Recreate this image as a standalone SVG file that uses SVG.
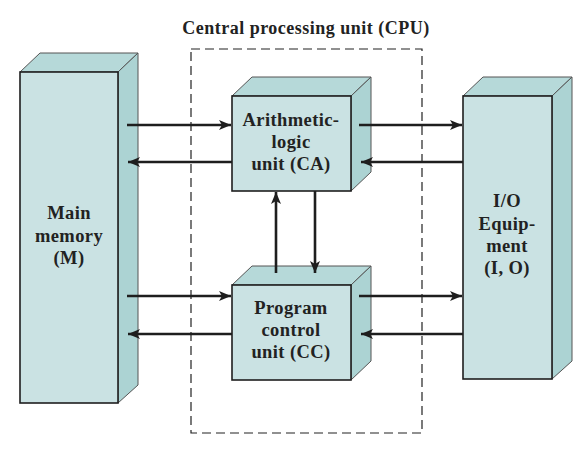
<svg xmlns="http://www.w3.org/2000/svg" width="580" height="471" viewBox="0 0 580 471">
<style>
.front{fill:#cae2e3;stroke:#1e1e1e;stroke-width:1.6}
.side{fill:#acd3d3;stroke:#555;stroke-width:1}
.top{fill:#b6d9d9;stroke:#555;stroke-width:1}
.lbl{font-family:"Liberation Serif","Times New Roman",serif;font-weight:bold;font-size:18.5px;letter-spacing:0.4px;fill:#222;text-anchor:middle}
.title{font-family:"Liberation Serif","Times New Roman",serif;font-weight:bold;font-size:18px;letter-spacing:0.5px;fill:#222;text-anchor:middle}
.conn{stroke:#1e1e1e;stroke-width:2.6;fill:none}
</style>
<defs>
<marker id="ah" viewBox="0 0 12 10" refX="12" refY="5" markerWidth="12" markerHeight="10" markerUnits="userSpaceOnUse" orient="auto">
<path d="M0,0 L12,5 L0,10 L3,5 Z" fill="#1e1e1e"/>
</marker>
</defs>
<rect x="191" y="49" width="231" height="384" fill="none" stroke="#222" stroke-width="1.2" stroke-dasharray="9,5"/>
<text class="title" x="306" y="34">Central processing unit (CPU)</text>
<g id="main-memory">
<polygon class="top" points="20,72 40,53 138,53 118,72"/>
<polygon class="side" points="118,72 138,53 138,385 118,403"/>
<rect class="front" x="20" y="72" width="98" height="331"/>
<text class="lbl" x="69" y="219">Main</text>
<text class="lbl" x="69" y="242">memory</text>
<text class="lbl" x="69" y="264">(M)</text>
</g>
<g id="alu">
<polygon class="top" points="232,96 252,77 371,77 351,96"/>
<polygon class="side" points="351,96 371,77 371,172 351,191"/>
<rect class="front" x="232" y="96" width="119" height="95"/>
<text class="lbl" x="291" y="126">Arithmetic-</text>
<text class="lbl" x="291" y="148">logic</text>
<text class="lbl" x="291" y="170">unit (CA)</text>
</g>
<g id="pcu">
<polygon class="top" points="232,285 252,266 371,266 351,285"/>
<polygon class="side" points="351,285 371,266 371,361 351,380"/>
<rect class="front" x="232" y="285" width="119" height="95"/>
<text class="lbl" x="291" y="314">Program</text>
<text class="lbl" x="291" y="336">control</text>
<text class="lbl" x="291" y="358">unit (CC)</text>
</g>
<g id="io">
<polygon class="top" points="463,96 483,77 572,77 552,96"/>
<polygon class="side" points="552,96 572,77 572,361 552,379"/>
<rect class="front" x="463" y="96" width="89" height="283"/>
<text class="lbl" x="507" y="207">I/O</text>
<text class="lbl" x="507" y="230">Equip-</text>
<text class="lbl" x="507" y="252">ment</text>
<text class="lbl" x="507" y="274">(I, O)</text>
</g>
<g id="connectors">
<line class="conn" x1="127" y1="125" x2="231" y2="125" marker-end="url(#ah)"/>
<line class="conn" x1="232" y1="162" x2="128" y2="162" marker-end="url(#ah)"/>
<line class="conn" x1="127" y1="296" x2="231" y2="296" marker-end="url(#ah)"/>
<line class="conn" x1="232" y1="334" x2="128" y2="334" marker-end="url(#ah)"/>
<line class="conn" x1="359" y1="125" x2="462" y2="125" marker-end="url(#ah)"/>
<line class="conn" x1="463" y1="162" x2="361" y2="162" marker-end="url(#ah)"/>
<line class="conn" x1="359" y1="296" x2="462" y2="296" marker-end="url(#ah)"/>
<line class="conn" x1="463" y1="334" x2="361" y2="334" marker-end="url(#ah)"/>
<line class="conn" x1="276" y1="273" x2="276" y2="192" marker-end="url(#ah)"/>
<line class="conn" x1="315" y1="191" x2="315" y2="273" marker-end="url(#ah)"/>
</g>
</svg>
